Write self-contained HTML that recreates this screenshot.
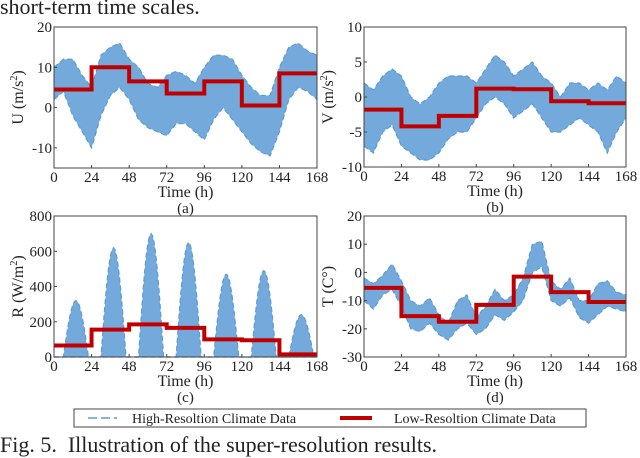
<!DOCTYPE html>
<html><head><meta charset="utf-8">
<style>
html,body{margin:0;padding:0;background:#fff;width:640px;height:458px;overflow:hidden}
svg{display:block}
text{font-family:"Liberation Serif",serif;fill:#222}
</style></head>
<body>
<svg id="fig" width="640" height="458" viewBox="0 0 640 458">
<text x="0" y="14" font-size="22">short-term time scales.</text>
<g>
<rect x="74" y="409" width="512" height="18" fill="#fff" stroke="#444" stroke-width="1"/>
<line x1="88" y1="418" x2="117" y2="418" stroke="#5b9bd5" stroke-width="1.5" stroke-dasharray="9,4"/>
<text x="132" y="423" font-size="14">High-Resoltion Climate Data</text>
<line x1="340" y1="418" x2="372" y2="418" stroke="#c00000" stroke-width="4"/>
<text x="394" y="423" font-size="14">Low-Resoltion Climate Data</text>
</g>
<text x="0" y="452" font-size="22">Fig. 5.&#160; Illustration of the super-resolution results.</text>
</svg>
<script>
const hours=[0,6,12,18,24,30,36,42,48,54,60,66,72,78,84,90,96,102,108,114,120,126,132,138,144,150,156,162,168];
const xTicks=[0,24,48,72,96,120,144,168];
const uUpper=[10,12,12,8,5,13,15,16,12,10,6,5,8,9,8,6,10,13,13,12,8,5,3,3,10,15,16,14,13];
const uLower=[2,4,-2,-6,-10,-2,3,5,2,-3,-5,-6,-7,-4,-4,-6,-8,-3,0,-3,-6,-9,-11,-12,-6,2,5,4,2];
const uSteps=[4.5,10,6.5,3.5,6.5,0.5,8.5];
const vUpper=[2,1,3,4,3,0,-1,0,2,3,3,3,2,4,6,5,3,4,5,3,2,0,2,2,1,2,1,3,2];
const vLower=[-7,-8,-5,-4,-7,-8,-9,-9,-8,-6,-5,-5,-3,-1,0,-1,-3,-2,-1,-3,-5,-5,-4,-3,-4,-5,-8,-5,-3];
const vSteps=[-1.8,-4.2,-2.7,1.2,1.1,-0.6,-0.9];
const rPeaks=[320,620,700,650,470,490,240];
const rSteps=[65,155,185,165,100,95,15];
const tUpper=[-2,-4,-1,3,-3,-10,-12,-9,-15,-18,-10,-8,-16,-12,-6,-10,-8,-2,10,11,-3,-6,-2,-10,-10,-4,-3,-7,-8];
const tLower=[-10,-13,-8,-6,-12,-20,-21,-18,-22,-24,-20,-18,-22,-20,-15,-17,-14,-10,0,2,-10,-12,-9,-16,-18,-15,-12,-13,-14];
const tSteps=[-5.5,-15.5,-17.5,-11.5,-1.5,-7,-10.5];

const NS="http://www.w3.org/2000/svg";
const svg=document.getElementById('fig');
function mk(tag,attrs,parent){const e=document.createElementNS(NS,tag);for(const k in attrs)e.setAttribute(k,attrs[k]);(parent||svg).appendChild(e);return e;}

function panel(p){
  const g=mk('g',{});
  
  
  const X=t=>p.x0+(t/168)*(p.x1-p.x0);
  const Y=v=>p.y1-(v-p.ymin)/(p.ymax-p.ymin)*(p.y1-p.y0);
  let up=[],lo=[];
  for(let i=0;i<p.ht.length;i++){up.push(X(p.ht[i])+','+Y(p.up[i]));lo.push(X(p.ht[i])+','+Y(p.lo[i]));}
  const band=mk('polygon',{points:up.concat(lo.slice().reverse()).join(' '),fill:'#5b9bd5',opacity:'0.85'},g);
  
  
  const l1=mk('polyline',{points:up.join(' '),fill:'none',stroke:'#5b9bd5','stroke-width':1.2,'stroke-dasharray':'5,3'},g);
  
  
  const l2=mk('polyline',{points:lo.join(' '),fill:'none',stroke:'#5b9bd5','stroke-width':1.2,'stroke-dasharray':'5,3'},g);
  
  
  let pts=[];
  p.steps.forEach((v,i)=>{pts.push(X(i*24)+','+Y(v));pts.push(X((i+1)*24)+','+Y(v));});
  const st=mk('polyline',{points:pts.join(' '),fill:'none',stroke:'#c00000','stroke-width':4,'stroke-linejoin':'miter'},g);
  
  
  const box=mk('rect',{x:p.x0,y:p.y0,width:p.x1-p.x0,height:p.y1-p.y0,fill:'none',stroke:'#444','stroke-width':1},g);
  
  
  xTicks.forEach(t=>{
    mk('line',{x1:X(t),x2:X(t),y1:p.y1,y2:p.y1-3,stroke:'#444'},g);
    const tx=mk('text',{x:X(t),y:p.y1+14,'font-size':15,'text-anchor':'middle'},g);
    tx.textContent=t;
    
    
  });
  p.yticks.forEach(v=>{
    mk('line',{x1:p.x0,x2:p.x0+3,y1:Y(v),y2:Y(v),stroke:'#444'},g);
    const tx=mk('text',{x:p.x0-2,y:Y(v)+5,'font-size':15,'text-anchor':'end'},g);
    tx.textContent=v;
    
    
  });
  const xt=mk('text',{x:(p.x0+p.x1)/2,y:p.y1+29,'font-size':16,'text-anchor':'middle'},g);
  xt.textContent='Time (h)';
  
  
  const sub=mk('text',{x:(p.x0+p.x1)/2,y:p.y1+45,'font-size':15,'text-anchor':'middle'},g);
  sub.textContent=p.sub;
  
  
  const yc=(p.y0+p.y1)/2, yx=p.x0-31;
  const yt=mk('text',{x:yx,y:yc,'font-size':16,'text-anchor':'middle',transform:`rotate(-90 ${yx} ${yc})`},g);
  yt.innerHTML=p.ytitle;
  
  
}

const rHours=[],rUp=[],rLo=[];
for(let h=0;h<=168;h++){
  const d=Math.min(6,Math.floor(h/24)),hh=h-d*24;
  const c=Math.cos((hh-14)/8*Math.PI/2);
  rHours.push(h);rUp.push(Math.max(0,rPeaks[d]*c));rLo.push(0);
}

panel({name:'panel-a-u-wind',x0:54,x1:317,y0:27,y1:168,ymin:-15,ymax:20,yticks:[-10,0,10,20],ht:hours,up:uUpper,lo:uLower,steps:uSteps,sub:'(a)',ytitle:'U (m/s<tspan font-size="10" dy="-6">2</tspan><tspan dy="6">)</tspan>'});
panel({name:'panel-b-v-wind',x0:364,x1:626,y0:27,y1:167,ymin:-10,ymax:10,yticks:[-10,-5,0,5,10],ht:hours,up:vUpper,lo:vLower,steps:vSteps,sub:'(b)',ytitle:'V (m/s<tspan font-size="10" dy="-6">2</tspan><tspan dy="6">)</tspan>'});
panel({name:'panel-c-radiation',x0:54,x1:317,y0:216,y1:357,ymin:0,ymax:800,yticks:[0,200,400,600,800],ht:rHours,up:rUp,lo:rLo,steps:rSteps,sub:'(c)',ytitle:'R (W/m<tspan font-size="10" dy="-6">2</tspan><tspan dy="6">)</tspan>'});
panel({name:'panel-d-temperature',x0:364,x1:626,y0:216,y1:357,ymin:-30,ymax:20,yticks:[-30,-20,-10,0,10,20],ht:hours,up:tUpper,lo:tLower,steps:tSteps,sub:'(d)',ytitle:'T (C°)'});
</script>
</body></html>
